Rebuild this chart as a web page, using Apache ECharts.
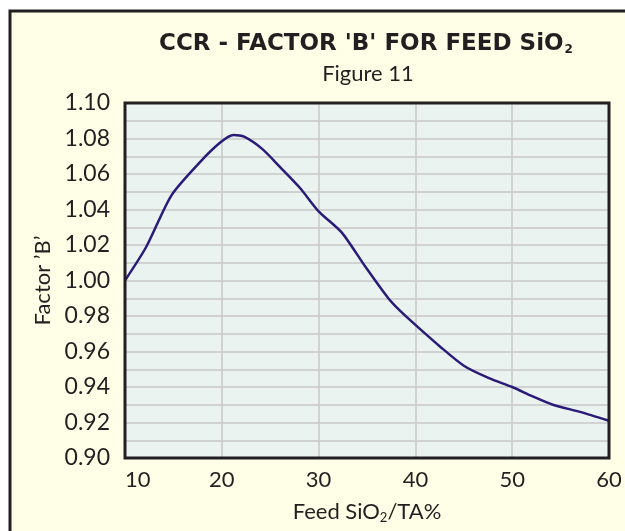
<!DOCTYPE html>
<html>
<head>
<meta charset="utf-8">
<script src="https://cdn.jsdelivr.net/npm/echarts@6/dist/echarts.min.js"></script>
<style>
  html, body { margin: 0; padding: 0; background: #ffffff; }
  #chart { width: 625px; height: 531px; }
</style>
</head>
<body>
<div id="chart"></div>
<script>
// Feed SiO2/TA% values
var feedSiO2 = [10, 12.2, 14.8, 17.8, 19.9, 21.2, 22.3, 24.2, 26.0, 28.1, 30.0, 32.4, 34.8, 37.2, 38.4, 40.0, 42.5, 45.0, 47.6, 50.0, 52.0, 54.2, 57.0, 60.0];
// Factor 'B'
var factorB = [1.000, 1.019, 1.048, 1.067, 1.078, 1.082, 1.081, 1.074, 1.064, 1.052, 1.039, 1.027, 1.008, 0.990, 0.983, 0.975, 0.963, 0.952, 0.945, 0.940, 0.935, 0.930, 0.926, 0.921];
var xTicks = [10, 20, 30, 40, 50, 60];
var yTicks = [0.90, 0.92, 0.94, 0.96, 0.98, 1.00, 1.02, 1.04, 1.06, 1.08, 1.10];

var titleText = "CCR - FACTOR 'B' FOR FEED SiO";
var subtitleText = "Figure 11";
var xName = "Feed SiO";
var yName = "Factor \u2019B\u2019";

var points = feedSiO2.map(function (x, i) { return [x, factorB[i]]; });
var FONT = "Lato";
var TFONT = "DejaVu Sans";
var INK = '#231F20';
var chart = echarts.init(document.getElementById('chart'), null, { renderer: 'canvas' });

chart.setOption({
  backgroundColor: '#ffffff',
  animation: false,
  textStyle: { fontFamily: FONT },
  graphic: [
    {
      type: 'rect', z: -100, silent: true,
      shape: { x: 10, y: 11, width: 700, height: 600 },
      style: { fill: '#FFFEE6', stroke: INK, lineWidth: 3 }
    },
    {
      type: 'rect', z: 100, silent: true,
      shape: { x: 125, y: 103, width: 484, height: 355 },
      style: { fill: 'none', stroke: INK, lineWidth: 3 }
    },
    {
      type: 'text', z: 10, silent: true,
      style: {
        x: 366, y: 44, align: 'center', verticalAlign: 'middle',
        text: '{t|' + titleText + '}{s|2}',
        rich: {
          t: { fontFamily: TFONT, fontWeight: 'bold', fontSize: 23, fill: INK },
          s: { fontFamily: TFONT, fontWeight: 'bold', fontSize: 12, fill: INK, padding: [12, 0, 0, 1] }
        }
      }
    },
    {
      type: 'text', z: 10, silent: true,
      style: { x: 368, y: 74, align: 'center', verticalAlign: 'middle', text: subtitleText, fontFamily: FONT, fontSize: 22, fill: INK }
    }
  ],
  grid: {
    left: 125, top: 103, right: 16, bottom: 73,
    show: true, backgroundColor: '#EAF3EF', borderWidth: 0
  },
  xAxis: {
    type: 'value', min: 10, max: 60, interval: 10,
    name: '{n|' + xName + '}{s|2}{n|/TA%}',
    nameLocation: 'middle', nameGap: 42,
    nameTextStyle: {
      rich: {
        n: { fontFamily: FONT, fontSize: 22, color: INK },
        s: { fontFamily: FONT, fontSize: 13, color: INK, padding: [11, 0, 0, 0] }
      }
    },
    axisLine: { show: false }, axisTick: { show: false },
    axisLabel: { fontSize: 22, color: INK, margin: 11, alignMinLabel: 'left', formatter: function (v) { return xTicks.indexOf(v) >= 0 ? String(v) : ''; } },
    splitLine: { show: true, lineStyle: { color: '#C8C8C8', width: 1.5 } }
  },
  yAxis: {
    type: 'value', min: 0.9, max: 1.1, interval: 0.02,
    name: yName, nameLocation: 'middle', nameGap: 71, nameRotate: 90,
    nameTextStyle: { fontFamily: FONT, fontSize: 22, color: INK },
    axisLine: { show: false }, axisTick: { show: false },
    axisLabel: { fontSize: 23, color: INK, margin: 15, formatter: function (v) { return v.toFixed(2); } },
    splitLine: { show: true, lineStyle: { color: '#C8C8C8', width: 1.5 } },
    minorTick: { show: false, splitNumber: 2 },
    minorSplitLine: { show: true, lineStyle: { color: '#C8C8C8', width: 1.5 } }
  },
  series: [{
    type: 'line', data: points, smooth: 0.25, showSymbol: false,
    lineStyle: { color: '#2A1B78', width: 2.5 }
  }]
});
</script>
</body>
</html>
